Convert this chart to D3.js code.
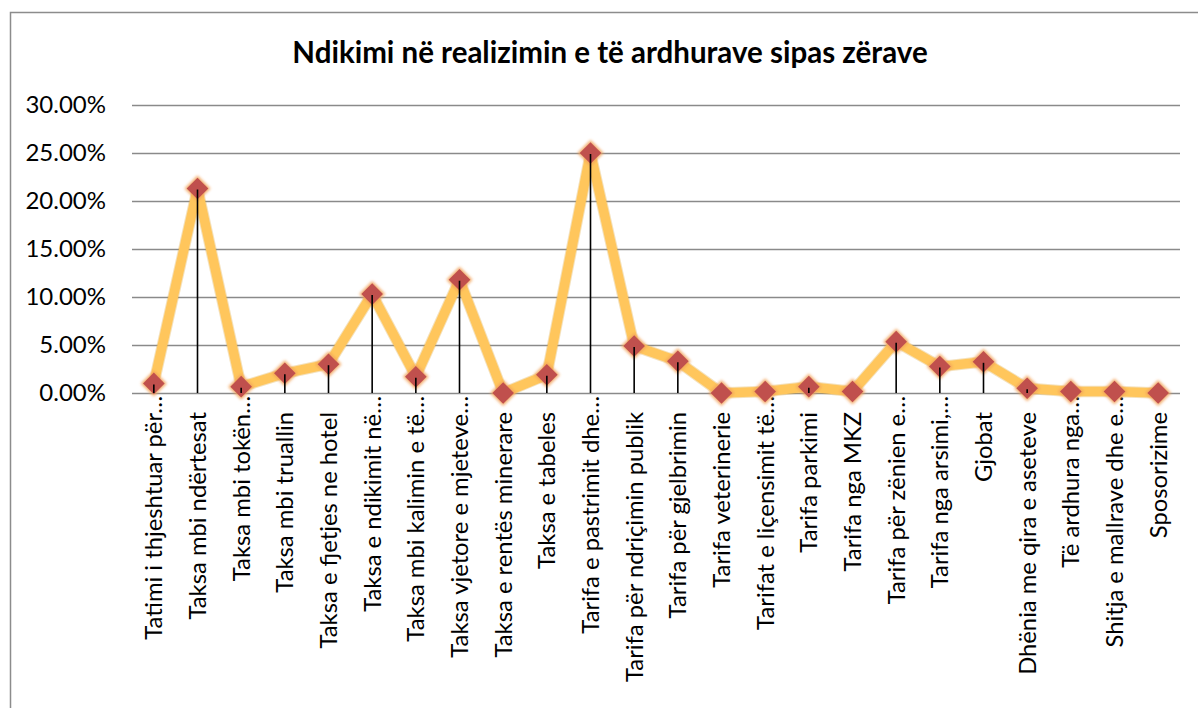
<!DOCTYPE html>
<html>
<head>
<meta charset="utf-8">
<script src="https://cdn.jsdelivr.net/npm/d3@7"></script>
<style>
  html, body { margin: 0; padding: 0; background: #fff; }
  svg { display: block; }
  text { font-family: Lato, "Open Sans", sans-serif; fill: #000; }
</style>
</head>
<body>
<svg id="chart" width="1198" height="708"></svg>
<script>
const title = "Ndikimi në realizimin e të ardhurave sipas zërave";

const categories = [
  "Tatimi i thjeshtuar për…",
  "Taksa mbi ndërtesat",
  "Taksa mbi tokën…",
  "Taksa mbi truallin",
  "Taksa e fjetjes ne hotel",
  "Taksa e ndikimit në…",
  "Taksa mbi kalimin e të…",
  "Taksa vjetore e mjeteve…",
  "Taksa e rentës minerare",
  "Taksa e tabeles",
  "Tarifa e pastrimit dhe…",
  "Tarifa për ndriçimin publik",
  "Tarifa për gjelbrimin",
  "Tarifa veterinerie",
  "Tarifat e liçensimit të…",
  "Tarifa parkimi",
  "Tarifa nga MKZ",
  "Tarifa për zënien e…",
  "Tarifa nga arsimi,…",
  "Gjobat",
  "Dhënia me qira e aseteve",
  "Të ardhura nga…",
  "Shitja e mallrave dhe e…",
  "Sposorizime"
];

const values = [
  0.0100, 0.2130, 0.0066, 0.0205, 0.0300, 0.1030,
  0.0170, 0.1180, 0.0000, 0.0190, 0.2500, 0.0490,
  0.0330, 0.0000, 0.0015, 0.0066, 0.0015, 0.0535,
  0.0275, 0.0325, 0.0050, 0.0015, 0.0015, 0.0000
];

const yTicks = [0, 0.05, 0.10, 0.15, 0.20, 0.25, 0.30];

const data = categories.map((c, i) => ({ cat: c, val: values[i] }));

const svg = d3.select("#chart");

// outer chart border
svg.append("rect")
  .attr("x", 10.5).attr("y", 12.5)
  .attr("width", 1220).attr("height", 730)
  .attr("fill", "#fff")
  .attr("stroke", "#8c8c8c").attr("stroke-width", 1.5);

const plot = { left: 132, right: 1180, top: 105, bottom: 393 };

const x = d3.scaleBand().domain(categories).range([plot.left, plot.right]).padding(0);
const y = d3.scaleLinear().domain([0, 0.30]).range([plot.bottom, plot.top]);

const defs = svg.append("defs");
const glow = defs.append("filter").attr("id", "glow")
  .attr("x", "-50%").attr("y", "-50%").attr("width", "200%").attr("height", "200%");
glow.append("feGaussianBlur").attr("stdDeviation", 1.7);

const lshadow = defs.append("filter").attr("id", "lshadow")
  .attr("x", "-10%").attr("y", "-10%").attr("width", "120%").attr("height", "120%");
lshadow.append("feGaussianBlur").attr("stdDeviation", 0.7);

// gridlines
svg.append("g")
  .selectAll("line")
  .data(yTicks)
  .join("line")
  .attr("x1", plot.left).attr("x2", plot.right)
  .attr("y1", d => y(d) + 0.5).attr("y2", d => y(d) + 0.5)
  .attr("stroke", "#8a8a8a").attr("stroke-width", 1.6);

// y axis labels
const fmt = d => (d * 100).toFixed(2) + "%";
svg.append("g")
  .selectAll("text")
  .data(yTicks)
  .join("text")
  .attr("x", 106)
  .attr("y", d => y(d))
  .attr("dy", "0.35em")
  .attr("text-anchor", "end")
  .style("font-size", "24px")
  .text(fmt);

// title
svg.append("text")
  .attr("x", 610).attr("y", 63)
  .attr("text-anchor", "middle")
  .style("font-size", "29.5px")
  .style("font-weight", "bold")
  .text(title);

// x labels (rotated)
svg.append("g")
  .selectAll("text")
  .data(categories)
  .join("text")
  .attr("transform", d => {
    const cx = x(d) + x.bandwidth() / 2;
    const top = d.endsWith("…") ? 396 : 412;
    return `translate(${cx},${top}) rotate(-90)`;
  })
  .attr("dy", "0.36em")
  .attr("text-anchor", "end")
  .style("font-size", "23.8px")
  .text(d => d);

const cx = d => x(d.cat) + x.bandwidth() / 2;

// line
const line = d3.line().x(cx).y(d => y(d.val));
svg.append("path")
  .datum(data)
  .attr("d", line)
  .attr("fill", "none")
  .attr("stroke", "#e0a840")
  .attr("stroke-opacity", 0.35)
  .attr("stroke-width", 11.5)
  .attr("stroke-linejoin", "round")
  .attr("filter", "url(#lshadow)");
svg.append("path")
  .datum(data)
  .attr("d", line)
  .attr("fill", "none")
  .attr("stroke", "#ffc65c")
  .attr("stroke-width", 9.5)
  .attr("stroke-linejoin", "round");

// markers
const diamond = r => `M0,${-r}L${r},0L0,${r}L${-r},0Z`;
const mk = svg.append("g").selectAll("g").data(data).join("g")
  .attr("transform", d => `translate(${cx(d)},${y(d.val)})`);
mk.append("path")
  .attr("d", diamond(13))
  .attr("fill", "#f2a35a")
  .attr("opacity", 0.9)
  .attr("filter", "url(#glow)");
mk.append("path")
  .attr("d", diamond(10.8))
  .attr("fill", "#c0504d");

// drop lines
svg.append("g")
  .selectAll("line")
  .data(data.filter(d => d.val > 0.002))
  .join("line")
  .attr("x1", cx).attr("x2", cx)
  .attr("y1", d => y(d.val) + 1)
  .attr("y2", y(0))
  .attr("stroke", "#000")
  .attr("stroke-width", 1.6);
</script>
</body>
</html>
